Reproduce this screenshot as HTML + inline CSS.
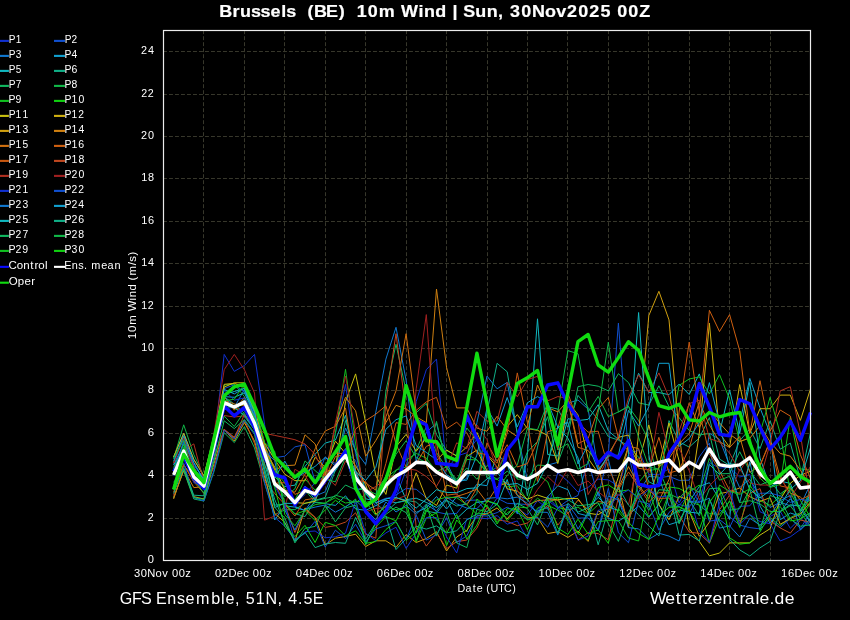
<!DOCTYPE html><html><head><meta charset="utf-8"><style>html,body{margin:0;padding:0;background:#000;width:850px;height:620px;overflow:hidden}</style></head><body><svg width="850" height="620" viewBox="0 0 850 620" style="position:absolute;left:0;top:0;will-change:transform"><rect width="850" height="620" fill="#000"/><path d="M203.50 30.2V560.5M244.50 30.2V560.5M284.50 30.2V560.5M325.50 30.2V560.5M365.50 30.2V560.5M406.50 30.2V560.5M446.50 30.2V560.5M487.50 30.2V560.5M527.50 30.2V560.5M567.50 30.2V560.5M608.50 30.2V560.5M648.50 30.2V560.5M689.50 30.2V560.5M729.50 30.2V560.5M770.50 30.2V560.5M163.0 518.50H810.5M163.0 475.50H810.5M163.0 433.50H810.5M163.0 390.50H810.5M163.0 348.50H810.5M163.0 306.50H810.5M163.0 263.50H810.5M163.0 221.50H810.5M163.0 178.50H810.5M163.0 136.50H810.5M163.0 94.50H810.5M163.0 51.50H810.5" stroke="#37372b" stroke-width="1" stroke-dasharray="3.95 2.05" fill="none"/><polyline points="173.6,476.1 183.7,447.1 193.8,466.6 203.9,485.7 214.0,443.9 224.2,354.4 234.3,371.4 244.4,365.5 254.5,354.4 264.6,424.8 274.7,482.1 284.8,491.8 294.9,503.9 305.0,494.6 315.1,482.5 325.2,476.3 335.4,433.3 345.5,384.5 355.6,454.5 365.7,490.5 375.8,502.4 385.9,498.2 396.0,497.3 406.1,470.0 416.2,401.5 426.3,369.7 436.5,359.1 446.6,470.4 456.7,456.0 466.8,452.8 476.9,439.2 487.0,471.5 497.1,467.6 507.2,489.3 517.3,508.6 527.4,515.1 537.5,500.5 547.7,509.2 557.8,472.7 567.9,481.2 578.0,492.2 588.1,487.4 598.2,479.1 608.3,479.9 618.4,485.9 628.5,455.6 638.6,449.6 648.8,474.4 658.9,474.4 669.0,468.9 679.1,502.8 689.2,484.8 699.3,503.0 709.4,462.6 719.5,468.1 729.6,467.2 739.7,477.0 749.8,474.4 760.0,511.7 770.1,516.4 780.2,511.3 790.3,528.3 800.4,518.3 810.5,526.6" stroke="#1030d0" stroke-width="1" fill="none" stroke-linejoin="miter"/><polyline points="173.6,468.7 183.7,442.6 193.8,465.3 203.9,478.0 214.0,436.7 224.2,388.6 234.3,384.8 244.4,391.7 254.5,409.3 264.6,444.7 274.7,457.7 284.8,456.2 294.9,446.9 305.0,444.7 315.1,482.1 325.2,457.0 335.4,463.6 345.5,452.4 355.6,460.4 365.7,493.9 375.8,505.8 385.9,499.2 396.0,495.0 406.1,488.4 416.2,489.3 426.3,497.7 436.5,512.0 446.6,514.1 456.7,513.4 466.8,500.3 476.9,500.1 487.0,512.4 497.1,498.0 507.2,503.3 517.3,503.9 527.4,504.5 537.5,512.2 547.7,496.5 557.8,507.7 567.9,500.3 578.0,495.4 588.1,460.9 598.2,496.3 608.3,454.5 618.4,323.1 628.5,454.5 638.6,495.0 648.8,507.1 658.9,477.8 669.0,476.3 679.1,480.4 689.2,480.2 699.3,456.8 709.4,443.1 719.5,509.8 729.6,516.8 739.7,525.1 749.8,527.6 760.0,528.9 770.1,519.4 780.2,527.6 790.3,518.5 800.4,528.5 810.5,512.6" stroke="#1050d0" stroke-width="1" fill="none" stroke-linejoin="miter"/><polyline points="173.6,464.5 183.7,444.1 193.8,474.9 203.9,484.4 214.0,444.3 224.2,408.3 234.3,407.4 244.4,389.4 254.5,414.2 264.6,449.6 274.7,486.9 284.8,491.4 294.9,506.4 305.0,510.5 315.1,496.1 325.2,491.8 335.4,467.2 345.5,428.0 355.6,450.9 365.7,464.5 375.8,412.1 385.9,359.1 396.0,327.3 406.1,380.3 416.2,461.3 426.3,432.2 436.5,423.3 446.6,462.3 456.7,483.8 466.8,478.2 476.9,422.7 487.0,376.1 497.1,388.8 507.2,382.4 517.3,433.3 527.4,480.4 537.5,472.3 547.7,465.1 557.8,462.3 567.9,403.2 578.0,400.0 588.1,409.1 598.2,469.3 608.3,459.2 618.4,500.7 628.5,520.4 638.6,492.0 648.8,476.5 658.9,477.0 669.0,506.0 679.1,506.4 689.2,513.9 699.3,495.6 709.4,433.3 719.5,439.4 729.6,465.3 739.7,487.6 749.8,479.3 760.0,496.5 770.1,507.5 780.2,502.2 790.3,505.8 800.4,505.4 810.5,484.0" stroke="#1078d0" stroke-width="1" fill="none" stroke-linejoin="miter"/><polyline points="173.6,464.9 183.7,449.4 193.8,476.1 203.9,485.5 214.0,441.8 224.2,402.3 234.3,407.0 244.4,416.3 254.5,429.7 264.6,472.9 274.7,520.0 284.8,505.8 294.9,507.1 305.0,510.5 315.1,502.4 325.2,503.7 335.4,505.4 345.5,495.8 355.6,509.0 365.7,510.3 375.8,505.6 385.9,500.3 396.0,502.8 406.1,500.7 416.2,512.4 426.3,507.9 436.5,496.5 446.6,509.0 456.7,496.7 466.8,498.4 476.9,484.2 487.0,485.7 497.1,453.9 507.2,464.0 517.3,495.4 527.4,499.2 537.5,514.9 547.7,496.7 557.8,485.7 567.9,489.7 578.0,513.4 588.1,516.0 598.2,491.6 608.3,518.5 618.4,521.1 628.5,515.1 638.6,505.8 648.8,517.5 658.9,504.3 669.0,524.7 679.1,521.5 689.2,501.6 699.3,486.5 709.4,482.7 719.5,499.4 729.6,519.4 739.7,422.7 749.8,378.4 760.0,407.9 770.1,433.3 780.2,519.8 790.3,513.0 800.4,516.2 810.5,495.0" stroke="#10a0d0" stroke-width="1" fill="none" stroke-linejoin="miter"/><polyline points="173.6,456.8 183.7,433.3 193.8,459.2 203.9,476.3 214.0,439.2 224.2,396.6 234.3,397.3 244.4,392.8 254.5,414.6 264.6,445.4 274.7,476.8 284.8,486.5 294.9,485.2 305.0,466.4 315.1,454.3 325.2,443.1 335.4,440.1 345.5,415.3 355.6,470.6 365.7,498.8 375.8,501.1 385.9,488.6 396.0,475.9 406.1,499.7 416.2,498.2 426.3,502.4 436.5,507.5 446.6,499.4 456.7,518.7 466.8,509.2 476.9,502.4 487.0,500.9 497.1,504.7 507.2,479.5 517.3,513.9 527.4,454.5 537.5,318.8 547.7,454.5 557.8,456.0 567.9,418.7 578.0,420.6 588.1,419.3 598.2,404.7 608.3,430.8 618.4,439.4 628.5,402.8 638.6,373.3 648.8,392.4 658.9,392.6 669.0,394.7 679.1,384.1 689.2,394.5 699.3,373.9 709.4,407.2 719.5,433.3 729.6,389.8 739.7,433.3 749.8,382.4 760.0,458.1 770.1,486.9 780.2,481.2 790.3,483.3 800.4,511.3 810.5,493.9" stroke="#10b8c0" stroke-width="1" fill="none" stroke-linejoin="miter"/><polyline points="173.6,466.2 183.7,456.2 193.8,477.0 203.9,486.9 214.0,445.0 224.2,396.8 234.3,404.0 244.4,413.4 254.5,429.5 264.6,468.9 274.7,505.2 284.8,503.9 294.9,513.6 305.0,516.6 315.1,500.3 325.2,497.5 335.4,470.2 345.5,420.6 355.6,450.9 365.7,492.9 375.8,502.8 385.9,512.4 396.0,502.8 406.1,500.3 416.2,502.0 426.3,511.1 436.5,513.0 446.6,500.3 456.7,506.0 466.8,503.9 476.9,493.5 487.0,412.1 497.1,363.3 507.2,371.8 517.3,433.3 527.4,495.8 537.5,447.1 547.7,406.8 557.8,409.1 567.9,427.2 578.0,395.4 588.1,407.6 598.2,419.5 608.3,436.7 618.4,440.1 628.5,446.0 638.6,457.3 648.8,481.8 658.9,486.5 669.0,420.6 679.1,441.8 689.2,447.1 699.3,438.0 709.4,417.6 719.5,459.0 729.6,465.5 739.7,440.7 749.8,429.1 760.0,448.6 770.1,420.8 780.2,449.2 790.3,443.1 800.4,479.3 810.5,432.7" stroke="#10b088" stroke-width="1" fill="none" stroke-linejoin="miter"/><polyline points="173.6,498.2 183.7,470.6 193.8,499.0 203.9,501.1 214.0,471.5 224.2,432.7 234.3,442.6 244.4,426.7 254.5,447.9 264.6,483.3 274.7,514.7 284.8,509.8 294.9,509.6 305.0,503.3 315.1,500.7 325.2,498.4 335.4,496.3 345.5,485.0 355.6,489.7 365.7,487.8 375.8,499.0 385.9,390.9 396.0,344.3 406.1,390.9 416.2,412.7 426.3,403.4 436.5,434.6 446.6,450.5 456.7,455.6 466.8,428.0 476.9,440.1 487.0,478.0 497.1,479.3 507.2,471.2 517.3,478.2 527.4,452.0 537.5,441.4 547.7,416.6 557.8,462.8 567.9,435.4 578.0,386.7 588.1,384.5 598.2,386.2 608.3,390.9 618.4,373.7 628.5,382.6 638.6,402.8 648.8,405.1 658.9,385.8 669.0,406.6 679.1,417.6 689.2,430.5 699.3,435.0 709.4,433.5 719.5,473.8 729.6,473.6 739.7,451.7 749.8,471.2 760.0,485.0 770.1,480.6 780.2,493.9 790.3,486.7 800.4,511.7 810.5,490.5" stroke="#10b860" stroke-width="1" fill="none" stroke-linejoin="miter"/><polyline points="173.6,458.7 183.7,424.8 193.8,454.5 203.9,476.3 214.0,436.1 224.2,385.0 234.3,384.1 244.4,396.6 254.5,414.2 264.6,453.0 274.7,476.1 284.8,487.8 294.9,503.7 305.0,490.1 315.1,502.0 325.2,503.3 335.4,495.2 345.5,498.2 355.6,503.3 365.7,493.5 375.8,500.7 385.9,477.8 396.0,470.0 406.1,467.0 416.2,450.0 426.3,426.9 436.5,452.6 446.6,468.1 456.7,479.3 466.8,467.9 476.9,479.3 487.0,465.5 497.1,471.9 507.2,451.1 517.3,479.3 527.4,478.5 537.5,465.1 547.7,465.7 557.8,412.1 567.9,350.6 578.0,353.8 588.1,412.1 598.2,396.4 608.3,416.6 618.4,411.9 628.5,406.6 638.6,420.6 648.8,440.3 658.9,485.9 669.0,483.5 679.1,523.0 689.2,501.4 699.3,505.2 709.4,513.6 719.5,514.3 729.6,501.1 739.7,520.9 749.8,514.7 760.0,526.4 770.1,517.7 780.2,525.7 790.3,517.7 800.4,512.6 810.5,526.2" stroke="#10b848" stroke-width="1" fill="none" stroke-linejoin="miter"/><polyline points="173.6,489.9 183.7,465.9 193.8,476.5 203.9,478.2 214.0,443.9 224.2,397.5 234.3,385.4 244.4,384.1 254.5,406.0 264.6,444.5 274.7,470.6 284.8,482.9 294.9,500.3 305.0,478.9 315.1,490.1 325.2,479.3 335.4,433.3 345.5,369.3 355.6,443.9 365.7,502.4 375.8,500.1 385.9,485.0 396.0,470.8 406.1,460.2 416.2,453.4 426.3,458.1 436.5,471.7 446.6,466.8 456.7,486.3 466.8,459.4 476.9,460.0 487.0,472.5 497.1,479.3 507.2,486.9 517.3,485.7 527.4,500.3 537.5,474.2 547.7,481.8 557.8,507.5 567.9,509.8 578.0,507.1 588.1,514.1 598.2,504.7 608.3,500.7 618.4,511.7 628.5,523.6 638.6,482.3 648.8,470.6 658.9,468.9 669.0,439.2 679.1,385.4 689.2,379.0 699.3,376.9 709.4,393.9 719.5,374.6 729.6,399.0 739.7,442.0 749.8,437.3 760.0,478.2 770.1,487.4 780.2,484.4 790.3,417.4 800.4,468.9 810.5,470.2" stroke="#10c020" stroke-width="1" fill="none" stroke-linejoin="miter"/><polyline points="173.6,468.9 183.7,444.7 193.8,481.0 203.9,485.7 214.0,440.9 224.2,397.3 234.3,406.8 244.4,404.3 254.5,423.3 264.6,451.1 274.7,468.9 284.8,503.0 294.9,514.3 305.0,510.7 315.1,520.4 325.2,510.0 335.4,500.3 345.5,507.1 355.6,499.0 365.7,542.7 375.8,527.0 385.9,516.6 396.0,520.9 406.1,500.9 416.2,541.8 426.3,518.1 436.5,512.8 446.6,545.7 456.7,520.0 466.8,531.9 476.9,499.0 487.0,506.7 497.1,524.0 507.2,508.6 517.3,509.2 527.4,529.8 537.5,508.1 547.7,503.3 557.8,497.7 567.9,521.1 578.0,533.6 588.1,512.8 598.2,487.6 608.3,484.8 618.4,491.6 628.5,489.9 638.6,497.7 648.8,516.6 658.9,504.5 669.0,486.9 679.1,488.4 689.2,493.9 699.3,505.2 709.4,543.3 719.5,517.5 729.6,500.9 739.7,527.4 749.8,485.0 760.0,500.5 770.1,505.4 780.2,496.1 790.3,486.5 800.4,500.3 810.5,517.7" stroke="#10d010" stroke-width="1" fill="none" stroke-linejoin="miter"/><polyline points="173.6,472.1 183.7,454.5 193.8,481.2 203.9,489.1 214.0,440.9 224.2,387.1 234.3,382.8 244.4,382.8 254.5,412.1 264.6,449.0 274.7,467.2 284.8,490.3 294.9,502.6 305.0,503.3 315.1,501.4 325.2,472.3 335.4,467.9 345.5,401.5 355.6,373.9 365.7,422.7 375.8,475.7 385.9,494.4 396.0,446.7 406.1,434.4 416.2,451.3 426.3,437.8 436.5,460.4 446.6,450.0 456.7,456.2 466.8,446.9 476.9,432.5 487.0,455.1 497.1,467.0 507.2,488.8 517.3,491.2 527.4,499.2 537.5,495.0 547.7,498.4 557.8,499.9 567.9,498.4 578.0,498.6 588.1,513.2 598.2,514.7 608.3,508.1 618.4,476.8 628.5,446.0 638.6,463.0 648.8,424.8 658.9,466.6 669.0,422.9 679.1,460.9 689.2,528.7 699.3,541.4 709.4,555.8 719.5,553.1 729.6,542.9 739.7,542.9 749.8,542.9 760.0,535.1 770.1,528.7 780.2,499.4 790.3,483.3 800.4,475.3 810.5,471.2" stroke="#c8c010" stroke-width="1" fill="none" stroke-linejoin="miter"/><polyline points="173.6,457.0 183.7,433.3 193.8,459.6 203.9,475.9 214.0,435.8 224.2,384.3 234.3,383.3 244.4,387.3 254.5,409.6 264.6,442.8 274.7,459.6 284.8,474.2 294.9,480.6 305.0,480.8 315.1,457.3 325.2,467.4 335.4,441.1 345.5,453.4 355.6,465.5 365.7,484.8 375.8,514.3 385.9,506.0 396.0,497.7 406.1,501.1 416.2,472.7 426.3,498.6 436.5,505.4 446.6,485.0 456.7,488.2 466.8,456.6 476.9,450.0 487.0,471.2 497.1,471.9 507.2,426.7 517.3,414.6 527.4,428.6 537.5,430.3 547.7,435.4 557.8,463.6 567.9,401.5 578.0,414.9 588.1,458.3 598.2,472.9 608.3,454.5 618.4,437.3 628.5,435.0 638.6,463.4 648.8,463.4 658.9,504.7 669.0,519.8 679.1,496.3 689.2,500.5 699.3,433.3 709.4,323.1 719.5,433.3 729.6,447.3 739.7,384.5 749.8,433.3 760.0,408.7 770.1,408.7 780.2,395.1 790.3,395.1 800.4,420.4 810.5,388.8" stroke="#d0b010" stroke-width="1" fill="none" stroke-linejoin="miter"/><polyline points="173.6,497.5 183.7,470.0 193.8,496.7 203.9,499.0 214.0,463.6 224.2,429.5 234.3,441.1 244.4,422.5 254.5,440.9 264.6,477.0 274.7,513.4 284.8,522.3 294.9,541.2 305.0,507.9 315.1,517.5 325.2,544.8 335.4,538.2 345.5,536.5 355.6,534.2 365.7,546.5 375.8,540.8 385.9,540.8 396.0,547.4 406.1,534.6 416.2,542.5 426.3,538.5 436.5,531.7 446.6,551.0 456.7,537.0 466.8,530.4 476.9,516.0 487.0,513.9 497.1,507.9 507.2,518.9 517.3,506.4 527.4,517.9 537.5,517.3 547.7,533.6 557.8,531.7 567.9,537.4 578.0,531.0 588.1,541.4 598.2,510.7 608.3,517.0 618.4,485.5 628.5,527.9 638.6,433.3 648.8,315.6 658.9,291.3 669.0,319.9 679.1,433.3 689.2,511.1 699.3,536.3 709.4,522.1 719.5,493.7 729.6,491.6 739.7,488.0 749.8,496.7 760.0,501.4 770.1,497.7 780.2,524.2 790.3,518.7 800.4,513.9 810.5,501.8" stroke="#d0a010" stroke-width="1" fill="none" stroke-linejoin="miter"/><polyline points="173.6,499.0 183.7,469.3 193.8,487.6 203.9,486.7 214.0,440.7 224.2,396.6 234.3,410.2 244.4,397.5 254.5,417.4 264.6,446.0 274.7,469.8 284.8,465.7 294.9,465.1 305.0,434.8 315.1,443.9 325.2,475.7 335.4,424.0 345.5,397.3 355.6,410.8 365.7,456.2 375.8,440.5 385.9,422.5 396.0,405.3 406.1,408.9 416.2,416.8 426.3,422.7 436.5,289.1 446.6,367.6 456.7,407.9 466.8,407.9 476.9,428.0 487.0,431.2 497.1,416.3 507.2,429.7 517.3,436.7 527.4,426.1 537.5,385.0 547.7,407.6 557.8,411.9 567.9,400.7 578.0,447.3 588.1,450.5 598.2,463.4 608.3,512.2 618.4,488.2 628.5,466.6 638.6,485.2 648.8,498.6 658.9,467.0 669.0,458.5 679.1,443.1 689.2,402.8 699.3,427.4 709.4,410.4 719.5,422.9 729.6,434.1 739.7,441.4 749.8,438.2 760.0,425.7 770.1,441.8 780.2,453.4 790.3,456.2 800.4,470.0 810.5,487.4" stroke="#d08010" stroke-width="1" fill="none" stroke-linejoin="miter"/><polyline points="173.6,474.4 183.7,454.9 193.8,481.0 203.9,485.7 214.0,442.6 224.2,400.0 234.3,404.0 244.4,405.5 254.5,414.6 264.6,446.4 274.7,482.1 284.8,490.3 294.9,492.2 305.0,474.4 315.1,448.8 325.2,431.0 335.4,426.3 345.5,407.9 355.6,471.0 365.7,483.1 375.8,490.1 385.9,416.8 396.0,390.9 406.1,333.7 416.2,412.1 426.3,464.9 436.5,487.6 446.6,498.6 456.7,496.5 466.8,493.3 476.9,489.1 487.0,502.6 497.1,486.7 507.2,482.5 517.3,495.2 527.4,505.2 537.5,500.7 547.7,499.9 557.8,500.1 567.9,513.6 578.0,500.1 588.1,509.8 598.2,501.4 608.3,503.3 618.4,486.7 628.5,446.2 638.6,448.6 648.8,489.1 658.9,500.9 669.0,479.5 679.1,443.7 689.2,433.5 699.3,402.1 709.4,425.0 719.5,441.6 729.6,447.5 739.7,436.5 749.8,472.3 760.0,465.5 770.1,440.7 780.2,477.8 790.3,493.1 800.4,497.1 810.5,506.9" stroke="#d07010" stroke-width="1" fill="none" stroke-linejoin="miter"/><polyline points="173.6,492.2 183.7,464.5 193.8,481.4 203.9,486.1 214.0,447.9 224.2,404.0 234.3,408.1 244.4,410.6 254.5,421.6 264.6,465.5 274.7,483.1 284.8,482.7 294.9,494.4 305.0,490.5 315.1,495.2 325.2,478.0 335.4,456.6 345.5,454.5 355.6,429.1 365.7,420.6 375.8,414.2 385.9,405.7 396.0,443.9 406.1,467.2 416.2,463.8 426.3,446.4 436.5,442.4 446.6,495.2 456.7,493.9 466.8,505.2 476.9,487.8 487.0,442.8 497.1,461.3 507.2,444.7 517.3,467.0 527.4,463.6 537.5,441.4 547.7,404.0 557.8,449.8 567.9,400.0 578.0,443.7 588.1,438.6 598.2,409.1 608.3,397.5 618.4,437.8 628.5,451.5 638.6,468.3 648.8,469.8 658.9,437.3 669.0,473.2 679.1,470.0 689.2,448.4 699.3,412.1 709.4,310.3 719.5,331.5 729.6,314.6 739.7,350.6 749.8,433.3 760.0,380.7 770.1,431.4 780.2,410.0 790.3,416.1 800.4,454.7 810.5,478.5" stroke="#d06010" stroke-width="1" fill="none" stroke-linejoin="miter"/><polyline points="173.6,488.2 183.7,464.5 193.8,481.8 203.9,493.3 214.0,457.3 224.2,429.3 234.3,437.3 244.4,419.9 254.5,443.3 264.6,481.6 274.7,493.5 284.8,504.5 294.9,516.0 305.0,499.9 315.1,498.2 325.2,469.6 335.4,453.2 345.5,453.7 355.6,480.4 365.7,481.6 375.8,499.4 385.9,463.4 396.0,422.7 406.1,424.4 416.2,410.4 426.3,401.9 436.5,397.3 446.6,428.8 456.7,422.1 466.8,432.7 476.9,452.8 487.0,454.7 497.1,463.2 507.2,433.3 517.3,372.9 527.4,422.7 537.5,481.4 547.7,431.8 557.8,428.2 567.9,393.0 578.0,422.1 588.1,432.2 598.2,431.2 608.3,467.9 618.4,489.7 628.5,471.9 638.6,487.1 648.8,501.8 658.9,492.7 669.0,492.9 679.1,412.1 689.2,342.1 699.3,412.1 709.4,453.7 719.5,470.8 729.6,490.3 739.7,493.3 749.8,463.6 760.0,465.7 770.1,442.0 780.2,485.9 790.3,488.0 800.4,499.9 810.5,494.8" stroke="#c85810" stroke-width="1" fill="none" stroke-linejoin="miter"/><polyline points="173.6,462.8 183.7,436.9 193.8,467.2 203.9,484.4 214.0,467.9 224.2,429.7 234.3,438.0 244.4,414.4 254.5,428.2 264.6,453.2 274.7,482.9 284.8,504.5 294.9,532.5 305.0,509.6 315.1,517.5 325.2,527.4 335.4,525.7 345.5,522.1 355.6,512.8 365.7,534.2 375.8,538.2 385.9,401.5 396.0,333.7 406.1,412.1 416.2,527.9 426.3,546.1 436.5,532.9 446.6,548.6 456.7,541.6 466.8,540.1 476.9,528.1 487.0,507.3 497.1,519.8 507.2,521.3 517.3,525.7 527.4,523.0 537.5,514.3 547.7,505.4 557.8,525.1 567.9,512.6 578.0,540.1 588.1,532.5 598.2,533.6 608.3,539.7 618.4,498.0 628.5,519.6 638.6,495.6 648.8,488.2 658.9,498.6 669.0,498.0 679.1,515.3 689.2,532.1 699.3,533.4 709.4,542.9 719.5,509.8 729.6,495.2 739.7,524.2 749.8,493.3 760.0,488.6 770.1,520.9 780.2,527.9 790.3,533.2 800.4,520.0 810.5,522.3" stroke="#c04820" stroke-width="1" fill="none" stroke-linejoin="miter"/><polyline points="173.6,495.6 183.7,450.3 193.8,443.9 203.9,482.1 214.0,446.9 224.2,415.5 234.3,417.0 244.4,415.9 254.5,425.7 264.6,433.3 274.7,435.4 284.8,437.5 294.9,439.7 305.0,443.9 315.1,454.5 325.2,475.7 335.4,485.5 345.5,461.1 355.6,472.9 365.7,492.0 375.8,486.5 385.9,479.1 396.0,474.9 406.1,468.5 416.2,470.2 426.3,476.5 436.5,486.3 446.6,468.7 456.7,442.8 466.8,448.6 476.9,411.3 487.0,421.2 497.1,421.0 507.2,382.4 517.3,396.8 527.4,379.7 537.5,376.3 547.7,400.9 557.8,396.6 567.9,398.3 578.0,421.2 588.1,494.6 598.2,476.8 608.3,457.7 618.4,435.8 628.5,397.7 638.6,374.8 648.8,392.2 658.9,372.9 669.0,397.5 679.1,430.8 689.2,403.6 699.3,400.2 709.4,438.6 719.5,442.0 729.6,453.2 739.7,471.2 749.8,454.9 760.0,478.7 770.1,443.9 780.2,390.9 790.3,386.7 800.4,433.3 810.5,504.1" stroke="#b03020" stroke-width="1" fill="none" stroke-linejoin="miter"/><polyline points="173.6,463.4 183.7,438.4 193.8,475.5 203.9,483.5 214.0,433.3 224.2,369.7 234.3,354.4 244.4,369.7 254.5,393.0 264.6,520.2 274.7,516.0 284.8,507.5 294.9,469.3 305.0,475.1 315.1,493.9 325.2,483.8 335.4,422.7 345.5,376.1 355.6,433.3 365.7,511.7 375.8,508.6 385.9,507.5 396.0,499.4 406.1,495.4 416.2,388.8 426.3,314.6 436.5,454.5 446.6,475.5 456.7,495.4 466.8,454.3 476.9,425.0 487.0,439.7 497.1,470.2 507.2,449.4 517.3,490.5 527.4,506.2 537.5,489.5 547.7,476.5 557.8,486.1 567.9,468.9 578.0,485.5 588.1,481.0 598.2,491.6 608.3,499.9 618.4,494.4 628.5,504.7 638.6,458.3 648.8,472.5 658.9,412.3 669.0,452.2 679.1,448.1 689.2,470.8 699.3,499.7 709.4,485.9 719.5,475.3 729.6,496.3 739.7,469.1 749.8,483.1 760.0,485.0 770.1,485.2 780.2,475.1 790.3,498.0 800.4,482.5 810.5,466.4" stroke="#a02020" stroke-width="1" fill="none" stroke-linejoin="miter"/><polyline points="173.6,472.7 183.7,451.5 193.8,482.7 203.9,485.7 214.0,441.8 224.2,389.8 234.3,400.2 244.4,397.9 254.5,412.9 264.6,450.9 274.7,486.1 284.8,504.1 294.9,541.8 305.0,531.7 315.1,531.0 325.2,537.8 335.4,536.8 345.5,533.2 355.6,500.7 365.7,533.2 375.8,540.8 385.9,532.9 396.0,527.2 406.1,548.4 416.2,533.2 426.3,517.7 436.5,517.5 446.6,536.8 456.7,552.9 466.8,518.9 476.9,517.7 487.0,518.7 497.1,515.6 507.2,524.2 517.3,520.9 527.4,538.9 537.5,509.8 547.7,500.3 557.8,508.1 567.9,517.9 578.0,540.1 588.1,536.1 598.2,510.3 608.3,508.3 618.4,495.2 628.5,490.1 638.6,498.6 648.8,489.5 658.9,497.1 669.0,495.8 679.1,505.4 689.2,494.4 699.3,530.8 709.4,542.3 719.5,502.4 729.6,489.5 739.7,524.5 749.8,514.5 760.0,521.5 770.1,523.8 780.2,541.0 790.3,536.8 800.4,529.5 810.5,521.5" stroke="#1030d0" stroke-width="1" fill="none" stroke-linejoin="miter"/><polyline points="173.6,474.0 183.7,462.8 193.8,497.7 203.9,500.9 214.0,470.0 224.2,430.1 234.3,439.0 244.4,420.4 254.5,434.6 264.6,482.9 274.7,517.3 284.8,526.2 294.9,539.5 305.0,533.4 315.1,521.3 325.2,547.1 335.4,530.2 345.5,538.5 355.6,524.2 365.7,542.1 375.8,528.9 385.9,525.7 396.0,521.5 406.1,539.7 416.2,515.1 426.3,540.1 436.5,534.8 446.6,517.7 456.7,542.5 466.8,535.9 476.9,515.6 487.0,516.0 497.1,512.6 507.2,507.1 517.3,512.8 527.4,519.2 537.5,517.3 547.7,527.2 557.8,507.9 567.9,504.1 578.0,518.1 588.1,517.9 598.2,529.8 608.3,488.4 618.4,532.7 628.5,542.7 638.6,500.9 648.8,503.9 658.9,530.2 669.0,512.4 679.1,504.5 689.2,507.3 699.3,490.5 709.4,521.1 719.5,519.6 729.6,527.4 739.7,506.4 749.8,505.8 760.0,493.3 770.1,493.1 780.2,495.8 790.3,502.4 800.4,499.4 810.5,500.7" stroke="#1050d0" stroke-width="1" fill="none" stroke-linejoin="miter"/><polyline points="173.6,472.5 183.7,441.1 193.8,463.2 203.9,481.0 214.0,442.0 224.2,395.8 234.3,407.9 244.4,400.0 254.5,414.6 264.6,451.1 274.7,460.6 284.8,510.0 294.9,530.0 305.0,509.6 315.1,507.1 325.2,505.0 335.4,512.2 345.5,506.7 355.6,500.5 365.7,509.6 375.8,519.8 385.9,502.0 396.0,512.0 406.1,505.4 416.2,514.3 426.3,504.3 436.5,511.1 446.6,497.1 456.7,503.9 466.8,508.1 476.9,508.6 487.0,498.4 497.1,497.5 507.2,498.8 517.3,497.1 527.4,503.3 537.5,512.0 547.7,512.4 557.8,535.1 567.9,506.4 578.0,529.1 588.1,512.6 598.2,531.0 608.3,496.1 618.4,499.9 628.5,527.6 638.6,528.9 648.8,539.3 658.9,533.2 669.0,536.1 679.1,541.0 689.2,501.6 699.3,502.2 709.4,498.2 719.5,528.1 729.6,525.9 739.7,537.0 749.8,518.3 760.0,525.1 770.1,515.1 780.2,500.7 790.3,495.4 800.4,530.2 810.5,518.1" stroke="#1078d0" stroke-width="1" fill="none" stroke-linejoin="miter"/><polyline points="173.6,461.3 183.7,435.6 193.8,462.3 203.9,480.4 214.0,436.1 224.2,389.4 234.3,393.9 244.4,388.1 254.5,418.2 264.6,451.3 274.7,478.0 284.8,461.1 294.9,478.7 305.0,472.3 315.1,466.4 325.2,457.5 335.4,465.7 345.5,448.6 355.6,471.5 365.7,480.4 375.8,467.4 385.9,429.3 396.0,419.7 406.1,415.9 416.2,445.6 426.3,452.4 436.5,459.8 446.6,474.9 456.7,480.6 466.8,480.2 476.9,455.1 487.0,408.3 497.1,426.1 507.2,397.5 517.3,426.9 527.4,402.8 537.5,396.6 547.7,402.3 557.8,427.2 567.9,422.3 578.0,464.0 588.1,444.7 598.2,470.0 608.3,456.0 618.4,455.1 628.5,410.4 638.6,426.1 648.8,406.8 658.9,363.3 669.0,363.3 679.1,446.4 689.2,438.6 699.3,422.7 709.4,382.6 719.5,422.7 729.6,468.9 739.7,502.4 749.8,461.9 760.0,506.0 770.1,523.2 780.2,512.0 790.3,498.8 800.4,509.0 810.5,522.3" stroke="#10a0d0" stroke-width="1" fill="none" stroke-linejoin="miter"/><polyline points="173.6,486.5 183.7,455.6 193.8,470.0 203.9,478.5 214.0,439.0 224.2,394.3 234.3,391.5 244.4,388.4 254.5,412.1 264.6,453.4 274.7,507.5 284.8,503.3 294.9,503.5 305.0,486.1 315.1,500.1 325.2,477.2 335.4,470.8 345.5,454.3 355.6,472.1 365.7,493.7 375.8,503.0 385.9,498.8 396.0,497.7 406.1,500.3 416.2,508.1 426.3,499.2 436.5,489.7 446.6,492.4 456.7,492.7 466.8,488.6 476.9,487.8 487.0,478.9 497.1,472.5 507.2,484.6 517.3,483.5 527.4,489.5 537.5,483.3 547.7,463.0 557.8,426.9 567.9,438.2 578.0,457.9 588.1,507.7 598.2,497.3 608.3,506.9 618.4,510.5 628.5,454.5 638.6,312.5 648.8,454.5 658.9,514.3 669.0,516.4 679.1,510.0 689.2,512.0 699.3,513.4 709.4,464.3 719.5,474.6 729.6,463.8 739.7,464.9 749.8,489.3 760.0,498.0 770.1,490.5 780.2,505.4 790.3,489.5 800.4,480.6 810.5,447.5" stroke="#10b8c0" stroke-width="1" fill="none" stroke-linejoin="miter"/><polyline points="173.6,493.5 183.7,467.6 193.8,495.2 203.9,495.8 214.0,456.6 224.2,404.9 234.3,407.9 244.4,414.9 254.5,429.5 264.6,463.8 274.7,499.4 284.8,523.0 294.9,541.0 305.0,532.3 315.1,547.6 325.2,544.0 335.4,542.5 345.5,543.3 355.6,517.3 365.7,539.3 375.8,522.8 385.9,515.8 396.0,549.5 406.1,538.7 416.2,526.2 426.3,529.1 436.5,525.9 446.6,532.9 456.7,530.8 466.8,520.0 476.9,513.9 487.0,513.4 497.1,526.4 507.2,531.5 517.3,529.5 527.4,535.9 537.5,511.1 547.7,507.5 557.8,533.4 567.9,503.3 578.0,512.2 588.1,507.7 598.2,544.8 608.3,509.2 618.4,487.1 628.5,505.2 638.6,514.7 648.8,525.9 658.9,535.9 669.0,492.7 679.1,535.1 689.2,534.4 699.3,541.0 709.4,499.4 719.5,521.3 729.6,539.3 739.7,549.9 749.8,556.0 760.0,547.8 770.1,541.4 780.2,511.3 790.3,504.7 800.4,506.2 810.5,521.3" stroke="#10b088" stroke-width="1" fill="none" stroke-linejoin="miter"/><polyline points="173.6,482.3 183.7,470.0 193.8,497.5 203.9,499.4 214.0,460.6 224.2,420.8 234.3,428.6 244.4,419.5 254.5,433.1 264.6,469.6 274.7,507.3 284.8,518.1 294.9,542.9 305.0,528.3 315.1,526.4 325.2,505.4 335.4,521.9 345.5,507.9 355.6,505.2 365.7,544.8 375.8,522.8 385.9,514.3 396.0,507.1 406.1,512.6 416.2,533.2 426.3,504.5 436.5,536.1 446.6,511.7 456.7,542.9 466.8,547.6 476.9,509.4 487.0,511.7 497.1,504.3 507.2,515.1 517.3,503.3 527.4,508.6 537.5,524.9 547.7,498.8 557.8,497.3 567.9,499.7 578.0,505.8 588.1,504.7 598.2,502.8 608.3,523.6 618.4,541.4 628.5,513.0 638.6,492.7 648.8,510.3 658.9,489.7 669.0,490.5 679.1,523.8 689.2,499.7 699.3,515.8 709.4,488.8 719.5,488.0 729.6,510.3 739.7,508.6 749.8,489.1 760.0,530.4 770.1,495.4 780.2,499.2 790.3,518.9 800.4,526.2 810.5,524.9" stroke="#10b860" stroke-width="1" fill="none" stroke-linejoin="miter"/><polyline points="173.6,458.3 183.7,439.9 193.8,478.9 203.9,493.3 214.0,447.5 224.2,416.1 234.3,426.5 244.4,411.5 254.5,421.9 264.6,452.8 274.7,483.5 284.8,496.7 294.9,488.8 305.0,460.9 315.1,470.6 325.2,479.3 335.4,481.8 345.5,457.0 355.6,489.3 365.7,489.5 375.8,494.1 385.9,475.9 396.0,454.3 406.1,440.7 416.2,457.5 426.3,462.6 436.5,421.4 446.6,466.6 456.7,482.3 466.8,454.5 476.9,459.6 487.0,472.9 497.1,489.3 507.2,475.5 517.3,464.9 527.4,428.2 537.5,429.7 547.7,402.6 557.8,449.6 567.9,443.7 578.0,469.3 588.1,463.6 598.2,412.1 608.3,342.1 618.4,412.1 628.5,406.0 638.6,437.3 648.8,467.0 658.9,469.1 669.0,493.9 679.1,498.4 689.2,486.9 699.3,492.4 709.4,458.5 719.5,480.2 729.6,476.3 739.7,502.6 749.8,500.7 760.0,503.9 770.1,511.5 780.2,511.7 790.3,505.8 800.4,518.7 810.5,512.6" stroke="#10b848" stroke-width="1" fill="none" stroke-linejoin="miter"/><polyline points="173.6,474.4 183.7,447.7 193.8,474.2 203.9,489.7 214.0,446.0 224.2,400.9 234.3,399.2 244.4,384.1 254.5,405.1 264.6,442.6 274.7,451.3 284.8,514.7 294.9,525.7 305.0,510.5 315.1,504.7 325.2,503.0 335.4,497.7 345.5,503.0 355.6,501.6 365.7,501.6 375.8,515.3 385.9,506.0 396.0,509.8 406.1,507.3 416.2,540.4 426.3,511.1 436.5,499.9 446.6,497.1 456.7,497.7 466.8,504.7 476.9,514.3 487.0,505.2 497.1,522.3 507.2,512.8 517.3,506.9 527.4,507.9 537.5,498.2 547.7,505.4 557.8,510.0 567.9,516.2 578.0,533.6 588.1,539.9 598.2,521.5 608.3,520.6 618.4,520.6 628.5,538.0 638.6,541.0 648.8,489.5 658.9,519.8 669.0,493.1 679.1,512.8 689.2,491.8 699.3,485.0 709.4,519.2 719.5,485.0 729.6,491.4 739.7,494.4 749.8,488.8 760.0,433.3 770.1,397.3 780.2,433.3 790.3,492.7 800.4,510.9 810.5,499.0" stroke="#10c020" stroke-width="1" fill="none" stroke-linejoin="miter"/><polyline points="173.6,474.0 183.7,451.1 193.8,476.8 203.9,481.6 214.0,439.0 224.2,401.3 234.3,406.0 244.4,401.1 254.5,417.8 264.6,451.7 274.7,487.6 284.8,526.6 294.9,536.5 305.0,525.3 315.1,542.5 325.2,522.3 335.4,525.5 345.5,535.9 355.6,530.8 365.7,543.3 375.8,541.6 385.9,529.5 396.0,521.7 406.1,540.4 416.2,532.1 426.3,509.4 436.5,519.6 446.6,533.2 456.7,514.5 466.8,539.1 476.9,525.1 487.0,500.7 497.1,503.9 507.2,520.6 517.3,509.0 527.4,520.2 537.5,516.0 547.7,499.4 557.8,528.1 567.9,534.4 578.0,519.2 588.1,534.0 598.2,529.8 608.3,543.3 618.4,508.6 628.5,522.1 638.6,533.4 648.8,539.5 658.9,515.8 669.0,507.3 679.1,507.1 689.2,510.9 699.3,529.1 709.4,502.6 719.5,488.2 729.6,537.8 739.7,544.2 749.8,542.9 760.0,531.9 770.1,514.1 780.2,506.4 790.3,520.9 800.4,519.4 810.5,502.8" stroke="#10d010" stroke-width="1" fill="none" stroke-linejoin="miter"/><polyline points="173.6,471.5 183.7,456.6 193.8,477.8 203.9,488.4 214.0,448.1 224.2,406.0 234.3,415.9 244.4,407.4 254.5,427.4 264.6,457.7 274.7,474.6 284.8,477.8 294.9,505.0 305.0,488.0 315.1,495.2 325.2,480.6 335.4,466.6 345.5,451.3 355.6,486.1 365.7,511.7 375.8,523.6 385.9,510.7 396.0,490.3 406.1,452.0 416.2,420.4 426.3,424.8 436.5,463.2 446.6,464.3 456.7,465.5 466.8,415.5 476.9,438.4 487.0,454.7 497.1,496.9 507.2,450.3 517.3,437.5 527.4,406.8 537.5,406.8 547.7,385.0 557.8,382.8 567.9,404.3 578.0,418.7 588.1,442.0 598.2,463.6 608.3,452.2 618.4,457.9 628.5,440.5 638.6,484.0 648.8,486.9 658.9,485.5 669.0,453.7 679.1,439.0 689.2,420.6 699.3,383.5 709.4,406.8 719.5,434.4 729.6,435.8 739.7,399.6 749.8,403.8 760.0,427.2 770.1,449.0 780.2,437.3 790.3,421.2 800.4,440.3 810.5,412.5" stroke="#0a0aff" stroke-width="3.4" fill="none" stroke-linejoin="round"/><polyline points="173.6,474.9 183.7,451.1 193.8,477.0 203.9,486.1 214.0,445.6 224.2,402.6 234.3,407.0 244.4,402.1 254.5,423.3 264.6,453.4 274.7,483.8 284.8,491.8 294.9,502.6 305.0,490.5 315.1,493.9 325.2,479.3 335.4,466.8 345.5,455.6 355.6,478.2 365.7,490.5 375.8,498.6 385.9,485.0 396.0,475.9 406.1,470.4 416.2,462.3 426.3,463.0 436.5,472.1 446.6,477.8 456.7,483.8 466.8,472.1 476.9,472.5 487.0,472.5 497.1,472.5 507.2,463.4 517.3,475.1 527.4,479.3 537.5,474.0 547.7,465.3 557.8,471.5 567.9,469.6 578.0,472.5 588.1,469.6 598.2,472.5 608.3,471.0 618.4,471.0 628.5,458.7 638.6,465.1 648.8,465.1 658.9,462.3 669.0,460.0 679.1,471.0 689.2,462.1 699.3,467.9 709.4,449.0 719.5,464.9 729.6,466.4 739.7,464.9 749.8,457.7 760.0,473.6 770.1,482.3 780.2,482.3 790.3,472.1 800.4,488.0 810.5,486.7" stroke="#ffffff" stroke-width="3.4" fill="none" stroke-linejoin="round"/><polyline points="173.6,489.5 183.7,454.5 193.8,470.4 203.9,482.7 214.0,438.6 224.2,395.8 234.3,386.9 244.4,384.1 254.5,405.7 264.6,430.1 274.7,456.6 284.8,466.8 294.9,477.2 305.0,469.1 315.1,482.7 325.2,467.2 335.4,452.0 345.5,436.5 355.6,488.4 365.7,506.0 375.8,499.2 385.9,479.1 396.0,447.5 406.1,385.6 416.2,417.4 426.3,440.7 436.5,441.6 446.6,456.4 456.7,460.4 466.8,407.4 476.9,353.2 487.0,403.6 497.1,456.2 507.2,420.4 517.3,383.5 527.4,377.8 537.5,370.5 547.7,406.8 557.8,444.7 567.9,392.6 578.0,341.7 588.1,334.5 598.2,365.0 608.3,372.2 618.4,357.6 628.5,341.7 638.6,350.4 648.8,378.2 658.9,405.7 669.0,408.5 679.1,404.3 689.2,419.9 699.3,421.0 709.4,412.5 719.5,416.8 729.6,414.0 739.7,412.5 749.8,443.1 760.0,467.9 770.1,483.8 780.2,475.1 790.3,466.4 800.4,476.5 810.5,482.3" stroke="#10dc10" stroke-width="3.4" fill="none" stroke-linejoin="round"/><rect x="163.5" y="30.5" width="647.0" height="530.0" fill="none" stroke="#ececec" stroke-width="1.2"/><text transform="scale(1.0039,1)" x="147.30" y="563.00" font-family="Liberation Sans, sans-serif" font-size="11.03" fill="#fff">0</text><text transform="scale(0.9677,1)" x="152.79" y="520.60" font-family="Liberation Sans, sans-serif" font-size="11.03" fill="#fff">2</text><text transform="scale(1.0041,1)" x="147.28" y="478.20" font-family="Liberation Sans, sans-serif" font-size="11.03" fill="#fff">4</text><text transform="scale(1.0391,1)" x="142.22" y="435.80" font-family="Liberation Sans, sans-serif" font-size="11.03" fill="#fff">6</text><text transform="scale(1.0148,1)" x="145.69" y="393.40" font-family="Liberation Sans, sans-serif" font-size="11.03" fill="#fff">8</text><text transform="scale(0.9826,1)" x="143.72 150.57" y="351.00" font-family="Liberation Sans, sans-serif" font-size="11.03" fill="#fff">10</text><text transform="scale(0.9634,1)" x="146.64 153.48" y="308.60" font-family="Liberation Sans, sans-serif" font-size="11.03" fill="#fff">12</text><text transform="scale(0.9832,1)" x="143.62 150.47" y="266.20" font-family="Liberation Sans, sans-serif" font-size="11.03" fill="#fff">14</text><text transform="scale(1.0003,1)" x="141.11 147.85" y="223.80" font-family="Liberation Sans, sans-serif" font-size="11.03" fill="#fff">16</text><text transform="scale(0.9880,1)" x="142.91 149.72" y="181.40" font-family="Liberation Sans, sans-serif" font-size="11.03" fill="#fff">18</text><text transform="scale(0.9863,1)" x="143.08 150.00" y="139.00" font-family="Liberation Sans, sans-serif" font-size="11.03" fill="#fff">20</text><text transform="scale(0.9677,1)" x="145.88 152.79" y="96.60" font-family="Liberation Sans, sans-serif" font-size="11.03" fill="#fff">22</text><text transform="scale(0.9868,1)" x="143.00 149.91" y="54.20" font-family="Liberation Sans, sans-serif" font-size="11.03" fill="#fff">24</text><text transform="scale(0.9957,1)" x="134.62 141.44 147.94 156.19 162.97 172.66 179.50 186.11" y="576.80" font-family="Liberation Sans, sans-serif" font-size="11.23" fill="#fff">30Nov00z</text><text transform="scale(0.9960,1)" x="215.84 222.54 229.32 237.70 244.12 253.71 260.55 267.16" y="576.80" font-family="Liberation Sans, sans-serif" font-size="11.23" fill="#fff">02Dec00z</text><text transform="scale(1.0005,1)" x="295.71 302.52 309.13 317.47 323.87 333.42 340.22 346.80" y="576.80" font-family="Liberation Sans, sans-serif" font-size="11.23" fill="#fff">04Dec00z</text><text transform="scale(1.0047,1)" x="374.96 381.74 388.31 396.63 403.00 412.51 419.28 425.84" y="576.80" font-family="Liberation Sans, sans-serif" font-size="11.23" fill="#fff">06Dec00z</text><text transform="scale(1.0017,1)" x="456.80 463.59 470.19 478.52 484.91 494.45 501.25 507.82" y="576.80" font-family="Liberation Sans, sans-serif" font-size="11.23" fill="#fff">08Dec00z</text><text transform="scale(0.9952,1)" x="541.03 547.92 554.57 562.95 569.38 578.98 585.83 592.44" y="576.80" font-family="Liberation Sans, sans-serif" font-size="11.23" fill="#fff">10Dec00z</text><text transform="scale(0.9907,1)" x="625.11 631.89 638.72 647.13 653.59 663.24 670.11 676.75" y="576.80" font-family="Liberation Sans, sans-serif" font-size="11.23" fill="#fff">12Dec00z</text><text transform="scale(0.9953,1)" x="703.50 710.40 717.04 725.43 731.85 741.46 748.30 754.91" y="576.80" font-family="Liberation Sans, sans-serif" font-size="11.23" fill="#fff">14Dec00z</text><text transform="scale(0.9995,1)" x="781.44 788.31 794.92 803.28 809.68 819.24 826.05 832.64" y="576.80" font-family="Liberation Sans, sans-serif" font-size="11.23" fill="#fff">16Dec00z</text><text transform="scale(0.9538,1)" x="479.75 488.00 495.58 499.72 509.87 514.26 522.42 528.42 537.05" y="592.50" font-family="Liberation Sans, sans-serif" font-size="11.23" fill="#fff">Date(UTC)</text><text transform="translate(135.70,295.50) rotate(-90) scale(0.9950,1)" x="-43.62 -36.59 -29.32 -15.76 -4.92 -1.82 5.04 15.19 20.12 30.44 33.95 40.11" y="0" font-family="Liberation Sans, sans-serif" font-size="11.45" fill="#fff">10mWind(m/s)</text><text transform="scale(1.0682,1)" x="205.23 217.63 224.60 234.94 243.85 253.23 263.30 268.06 287.80 294.01 305.22 317.02 333.88 344.28 354.48 375.29 391.74 396.84 407.44 423.61 433.78 444.89 455.58 466.16 477.49 487.90 497.98 510.32 520.82 530.89 541.34 551.73 562.20 577.82 588.24 598.40" y="16.90" font-family="Liberation Sans, sans-serif" font-size="16.80" font-weight="bold" fill="#fff" stroke="#fff" stroke-width="0.2">Brussels(BE)10mWind|Sun,30Nov202500Z</text><text transform="scale(0.9582,1)" x="125.05 137.72 147.16 162.91 174.49 184.68 193.61 204.57 220.39 230.70 235.39 245.31 256.35 266.96 277.20 289.66 300.76 311.07 316.63 326.31" y="603.60" font-family="Liberation Sans, sans-serif" font-size="16.80" fill="#fff">GFSEnsemble,51N,4.5E</text><text transform="scale(1.0447,1)" x="622.19 636.87 646.84 652.85 658.30 668.28 673.85 682.06 691.63 701.74 707.75 712.85 723.07 727.13 736.58 741.46 751.14" y="603.80" font-family="Liberation Sans, sans-serif" font-size="16.80" fill="#fff">Wetterzentrale.de</text><rect x="0" y="39.85" width="8.9" height="2.1" fill="#1030d0"/><text transform="scale(0.8945,1)" x="9.75 17.52" y="43.00" font-family="Liberation Sans, sans-serif" font-size="11.23" fill="#fff">P1</text><rect x="54" y="39.85" width="11" height="2.1" fill="#1050d0"/><text transform="scale(0.9001,1)" x="71.88 79.49" y="43.00" font-family="Liberation Sans, sans-serif" font-size="11.23" fill="#fff">P2</text><rect x="0" y="54.85" width="8.9" height="2.1" fill="#1078d0"/><text transform="scale(0.8997,1)" x="9.67 17.45" y="58.00" font-family="Liberation Sans, sans-serif" font-size="11.23" fill="#fff">P3</text><rect x="54" y="54.85" width="11" height="2.1" fill="#10a0d0"/><text transform="scale(0.9210,1)" x="70.16 77.77" y="58.00" font-family="Liberation Sans, sans-serif" font-size="11.23" fill="#fff">P4</text><rect x="0" y="69.85" width="8.9" height="2.1" fill="#10b8c0"/><text transform="scale(0.8918,1)" x="9.79 17.58" y="73.00" font-family="Liberation Sans, sans-serif" font-size="11.23" fill="#fff">P5</text><rect x="54" y="69.85" width="11" height="2.1" fill="#10b088"/><text transform="scale(0.9337,1)" x="69.15 76.68" y="73.00" font-family="Liberation Sans, sans-serif" font-size="11.23" fill="#fff">P6</text><rect x="0" y="84.85" width="8.9" height="2.1" fill="#10b860"/><text transform="scale(0.9067,1)" x="9.56 17.26" y="88.00" font-family="Liberation Sans, sans-serif" font-size="11.23" fill="#fff">P7</text><rect x="54" y="84.85" width="11" height="2.1" fill="#10b848"/><text transform="scale(0.9231,1)" x="69.99 77.58" y="88.00" font-family="Liberation Sans, sans-serif" font-size="11.23" fill="#fff">P8</text><rect x="0" y="99.85" width="8.9" height="2.1" fill="#10c020"/><text transform="scale(0.9327,1)" x="9.19 16.68" y="103.00" font-family="Liberation Sans, sans-serif" font-size="11.23" fill="#fff">P9</text><rect x="54" y="99.85" width="11" height="2.1" fill="#10d010"/><text transform="scale(0.9308,1)" x="69.38 76.87 84.24" y="103.00" font-family="Liberation Sans, sans-serif" font-size="11.23" fill="#fff">P10</text><rect x="0" y="114.85" width="8.9" height="2.1" fill="#c8c010"/><text transform="scale(0.9144,1)" x="9.45 17.06 24.51" y="118.00" font-family="Liberation Sans, sans-serif" font-size="11.23" fill="#fff">P11</text><rect x="54" y="114.85" width="11" height="2.1" fill="#d0b010"/><text transform="scale(0.9180,1)" x="70.40 77.99 85.30" y="118.00" font-family="Liberation Sans, sans-serif" font-size="11.23" fill="#fff">P12</text><rect x="0" y="129.85" width="8.9" height="2.1" fill="#d0a010"/><text transform="scale(0.9174,1)" x="9.41 17.00 24.48" y="133.00" font-family="Liberation Sans, sans-serif" font-size="11.23" fill="#fff">P13</text><rect x="54" y="129.85" width="11" height="2.1" fill="#d08010"/><text transform="scale(0.9321,1)" x="69.28 76.76 84.11" y="133.00" font-family="Liberation Sans, sans-serif" font-size="11.23" fill="#fff">P14</text><rect x="0" y="144.85" width="8.9" height="2.1" fill="#d07010"/><text transform="scale(0.9119,1)" x="9.49 17.12 24.58" y="148.00" font-family="Liberation Sans, sans-serif" font-size="11.23" fill="#fff">P15</text><rect x="54" y="144.85" width="11" height="2.1" fill="#d06010"/><text transform="scale(0.9413,1)" x="68.56 75.98 83.26" y="148.00" font-family="Liberation Sans, sans-serif" font-size="11.23" fill="#fff">P16</text><rect x="0" y="159.85" width="8.9" height="2.1" fill="#c85810"/><text transform="scale(0.9225,1)" x="9.33 16.88 24.29" y="163.00" font-family="Liberation Sans, sans-serif" font-size="11.23" fill="#fff">P17</text><rect x="54" y="159.85" width="11" height="2.1" fill="#c04820"/><text transform="scale(0.9339,1)" x="69.14 76.60 83.94" y="163.00" font-family="Liberation Sans, sans-serif" font-size="11.23" fill="#fff">P18</text><rect x="0" y="174.85" width="8.9" height="2.1" fill="#b03020"/><text transform="scale(0.9406,1)" x="9.08 16.50 23.75" y="178.00" font-family="Liberation Sans, sans-serif" font-size="11.23" fill="#fff">P19</text><rect x="54" y="174.85" width="11" height="2.1" fill="#a02020"/><text transform="scale(0.9340,1)" x="69.13 76.49 83.93" y="178.00" font-family="Liberation Sans, sans-serif" font-size="11.23" fill="#fff">P20</text><rect x="0" y="189.85" width="8.9" height="2.1" fill="#1030d0"/><text transform="scale(0.9180,1)" x="9.40 16.88 24.40" y="193.00" font-family="Liberation Sans, sans-serif" font-size="11.23" fill="#fff">P21</text><rect x="54" y="189.85" width="11" height="2.1" fill="#1050d0"/><text transform="scale(0.9215,1)" x="70.12 77.58 84.97" y="193.00" font-family="Liberation Sans, sans-serif" font-size="11.23" fill="#fff">P22</text><rect x="0" y="204.85" width="8.9" height="2.1" fill="#1078d0"/><text transform="scale(0.9209,1)" x="9.36 16.82 24.37" y="208.00" font-family="Liberation Sans, sans-serif" font-size="11.23" fill="#fff">P23</text><rect x="54" y="204.85" width="11" height="2.1" fill="#10a0d0"/><text transform="scale(0.9352,1)" x="69.03 76.39 83.81" y="208.00" font-family="Liberation Sans, sans-serif" font-size="11.23" fill="#fff">P24</text><rect x="0" y="219.85" width="8.9" height="2.1" fill="#10b8c0"/><text transform="scale(0.9155,1)" x="9.43 16.93 24.48" y="223.00" font-family="Liberation Sans, sans-serif" font-size="11.23" fill="#fff">P25</text><rect x="54" y="219.85" width="11" height="2.1" fill="#10b088"/><text transform="scale(0.9444,1)" x="68.33 75.62 82.98" y="223.00" font-family="Liberation Sans, sans-serif" font-size="11.23" fill="#fff">P26</text><rect x="0" y="234.85" width="8.9" height="2.1" fill="#10b860"/><text transform="scale(0.9259,1)" x="9.28 16.71 24.19" y="238.00" font-family="Liberation Sans, sans-serif" font-size="11.23" fill="#fff">P27</text><rect x="54" y="234.85" width="11" height="2.1" fill="#10b848"/><text transform="scale(0.9371,1)" x="68.89 76.23 83.65" y="238.00" font-family="Liberation Sans, sans-serif" font-size="11.23" fill="#fff">P28</text><rect x="0" y="249.85" width="8.9" height="2.1" fill="#10c020"/><text transform="scale(0.9437,1)" x="9.04 16.33 23.66" y="253.00" font-family="Liberation Sans, sans-serif" font-size="11.23" fill="#fff">P29</text><rect x="54" y="249.85" width="11" height="2.1" fill="#10d010"/><text transform="scale(0.9333,1)" x="69.18 76.72 84.00" y="253.00" font-family="Liberation Sans, sans-serif" font-size="11.23" fill="#fff">P30</text><rect x="0" y="265.80" width="8.9" height="2.1" fill="#0a0aff"/><text transform="scale(1.0278,1)" x="8.37 16.19 22.69 29.54 33.63 37.29 43.79" y="268.95" font-family="Liberation Sans, sans-serif" font-size="11.23" fill="#fff">Control</text><rect x="54" y="265.80" width="11" height="2.1" fill="#ffffff"/><text transform="scale(0.9702,1)" x="66.34 74.00 80.74 86.53 94.08 104.39 110.73 118.04" y="268.95" font-family="Liberation Sans, sans-serif" font-size="11.23" fill="#fff">Ens.mean</text><rect x="0" y="281.65" width="8.9" height="2.1" fill="#10dc10"/><text transform="scale(1.0242,1)" x="8.63 17.36 23.85 30.64" y="284.80" font-family="Liberation Sans, sans-serif" font-size="11.23" fill="#fff">Oper</text></svg></body></html>
